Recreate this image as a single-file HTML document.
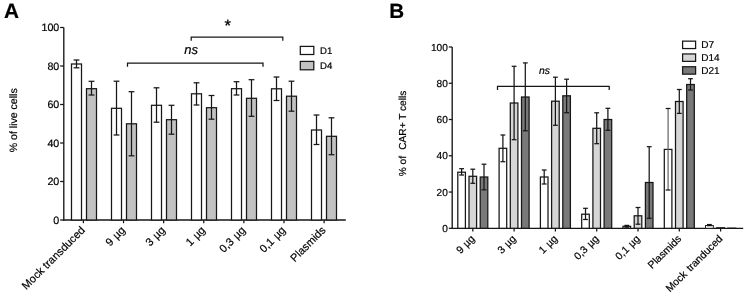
<!DOCTYPE html>
<html><head><meta charset="utf-8"><title>Figure</title>
<style>
html,body{margin:0;padding:0;background:#fff;}
body{width:744px;height:294px;overflow:hidden;}
svg text{stroke:#000;stroke-width:0.2px;text-rendering:geometricPrecision;}
svg{display:block;will-change:transform;filter:grayscale(1);font-family:"Liberation Sans",sans-serif;}
</style></head><body>
<svg width="744" height="294" viewBox="0 0 744 294">
<rect x="0" y="0" width="744" height="294" fill="#ffffff"/>
<text x="4.00" y="17.85" font-size="20.8" text-anchor="start" fill="#000" font-weight="bold">A</text>
<line x1="63.80" y1="27.50" x2="63.80" y2="220.65" stroke="#161616" stroke-width="1.35"/>
<line x1="63.30" y1="220.00" x2="345.80" y2="220.00" stroke="#161616" stroke-width="1.35"/>
<line x1="60.10" y1="220.00" x2="63.80" y2="220.00" stroke="#161616" stroke-width="1.25"/>
<text x="59.30" y="223.80" font-size="10.7" text-anchor="end" fill="#000000" >0</text>
<line x1="60.10" y1="181.50" x2="63.80" y2="181.50" stroke="#161616" stroke-width="1.25"/>
<text x="59.30" y="185.30" font-size="10.7" text-anchor="end" fill="#000000" >20</text>
<line x1="60.10" y1="143.00" x2="63.80" y2="143.00" stroke="#161616" stroke-width="1.25"/>
<text x="59.30" y="146.80" font-size="10.7" text-anchor="end" fill="#000000" >40</text>
<line x1="60.10" y1="104.50" x2="63.80" y2="104.50" stroke="#161616" stroke-width="1.25"/>
<text x="59.30" y="108.30" font-size="10.7" text-anchor="end" fill="#000000" >60</text>
<line x1="60.10" y1="66.00" x2="63.80" y2="66.00" stroke="#161616" stroke-width="1.25"/>
<text x="59.30" y="69.80" font-size="10.7" text-anchor="end" fill="#000000" >80</text>
<line x1="60.10" y1="27.50" x2="63.80" y2="27.50" stroke="#161616" stroke-width="1.25"/>
<text x="59.30" y="31.30" font-size="10.7" text-anchor="end" fill="#000000" >100</text>
<text transform="translate(16.7,120.3) rotate(-90)" font-size="10.55" text-anchor="middle" fill="#000000">% of live cells</text>
<rect x="71.50" y="64.00" width="10.00" height="156.00" fill="#ffffff" stroke="#161616" stroke-width="1.25"/>
<rect x="86.50" y="88.70" width="10.00" height="131.30" fill="#c2c2c2" stroke="#161616" stroke-width="1.25"/>
<line x1="76.50" y1="60.00" x2="76.50" y2="67.80" stroke="#161616" stroke-width="1.25"/>
<line x1="73.60" y1="60.00" x2="79.40" y2="60.00" stroke="#161616" stroke-width="1.25"/>
<line x1="73.60" y1="67.80" x2="79.40" y2="67.80" stroke="#161616" stroke-width="1.25"/>
<line x1="91.50" y1="81.30" x2="91.50" y2="95.00" stroke="#161616" stroke-width="1.25"/>
<line x1="88.60" y1="81.30" x2="94.40" y2="81.30" stroke="#161616" stroke-width="1.25"/>
<line x1="88.60" y1="95.00" x2="94.40" y2="95.00" stroke="#161616" stroke-width="1.25"/>
<line x1="83.40" y1="220.00" x2="83.40" y2="223.20" stroke="#161616" stroke-width="1.25"/>
<text transform="translate(85.60,230.90) rotate(-45)" font-size="11" text-anchor="end" fill="#000000">Mock transduced</text>
<rect x="111.50" y="108.30" width="10.00" height="111.70" fill="#ffffff" stroke="#161616" stroke-width="1.25"/>
<rect x="126.50" y="123.80" width="10.00" height="96.20" fill="#c2c2c2" stroke="#161616" stroke-width="1.25"/>
<line x1="116.50" y1="81.20" x2="116.50" y2="135.00" stroke="#161616" stroke-width="1.25"/>
<line x1="113.60" y1="81.20" x2="119.40" y2="81.20" stroke="#161616" stroke-width="1.25"/>
<line x1="113.60" y1="135.00" x2="119.40" y2="135.00" stroke="#161616" stroke-width="1.25"/>
<line x1="131.50" y1="91.70" x2="131.50" y2="155.80" stroke="#161616" stroke-width="1.25"/>
<line x1="128.60" y1="91.70" x2="134.40" y2="91.70" stroke="#161616" stroke-width="1.25"/>
<line x1="128.60" y1="155.80" x2="134.40" y2="155.80" stroke="#161616" stroke-width="1.25"/>
<line x1="123.52" y1="220.00" x2="123.52" y2="223.20" stroke="#161616" stroke-width="1.25"/>
<text transform="translate(125.72,230.90) rotate(-45)" font-size="11" text-anchor="end" fill="#000000" style="word-spacing:0.7px">9 µg</text>
<rect x="151.50" y="105.30" width="10.00" height="114.70" fill="#ffffff" stroke="#161616" stroke-width="1.25"/>
<rect x="166.50" y="119.70" width="10.00" height="100.30" fill="#c2c2c2" stroke="#161616" stroke-width="1.25"/>
<line x1="156.50" y1="87.80" x2="156.50" y2="122.20" stroke="#161616" stroke-width="1.25"/>
<line x1="153.60" y1="87.80" x2="159.40" y2="87.80" stroke="#161616" stroke-width="1.25"/>
<line x1="153.60" y1="122.20" x2="159.40" y2="122.20" stroke="#161616" stroke-width="1.25"/>
<line x1="171.50" y1="105.30" x2="171.50" y2="134.20" stroke="#161616" stroke-width="1.25"/>
<line x1="168.60" y1="105.30" x2="174.40" y2="105.30" stroke="#161616" stroke-width="1.25"/>
<line x1="168.60" y1="134.20" x2="174.40" y2="134.20" stroke="#161616" stroke-width="1.25"/>
<line x1="163.64" y1="220.00" x2="163.64" y2="223.20" stroke="#161616" stroke-width="1.25"/>
<text transform="translate(165.84,230.90) rotate(-45)" font-size="11" text-anchor="end" fill="#000000" style="word-spacing:0.7px">3 µg</text>
<rect x="191.50" y="93.80" width="10.00" height="126.20" fill="#ffffff" stroke="#161616" stroke-width="1.25"/>
<rect x="206.50" y="107.70" width="10.00" height="112.30" fill="#c2c2c2" stroke="#161616" stroke-width="1.25"/>
<line x1="196.50" y1="82.80" x2="196.50" y2="105.00" stroke="#161616" stroke-width="1.25"/>
<line x1="193.60" y1="82.80" x2="199.40" y2="82.80" stroke="#161616" stroke-width="1.25"/>
<line x1="193.60" y1="105.00" x2="199.40" y2="105.00" stroke="#161616" stroke-width="1.25"/>
<line x1="211.50" y1="95.50" x2="211.50" y2="119.20" stroke="#161616" stroke-width="1.25"/>
<line x1="208.60" y1="95.50" x2="214.40" y2="95.50" stroke="#161616" stroke-width="1.25"/>
<line x1="208.60" y1="119.20" x2="214.40" y2="119.20" stroke="#161616" stroke-width="1.25"/>
<line x1="203.76" y1="220.00" x2="203.76" y2="223.20" stroke="#161616" stroke-width="1.25"/>
<text transform="translate(205.96,230.90) rotate(-45)" font-size="11" text-anchor="end" fill="#000000" style="word-spacing:0.7px">1 µg</text>
<rect x="231.50" y="88.70" width="10.00" height="131.30" fill="#ffffff" stroke="#161616" stroke-width="1.25"/>
<rect x="246.50" y="98.30" width="10.00" height="121.70" fill="#c2c2c2" stroke="#161616" stroke-width="1.25"/>
<line x1="236.50" y1="81.70" x2="236.50" y2="95.00" stroke="#161616" stroke-width="1.25"/>
<line x1="233.60" y1="81.70" x2="239.40" y2="81.70" stroke="#161616" stroke-width="1.25"/>
<line x1="233.60" y1="95.00" x2="239.40" y2="95.00" stroke="#161616" stroke-width="1.25"/>
<line x1="251.50" y1="79.70" x2="251.50" y2="116.30" stroke="#161616" stroke-width="1.25"/>
<line x1="248.60" y1="79.70" x2="254.40" y2="79.70" stroke="#161616" stroke-width="1.25"/>
<line x1="248.60" y1="116.30" x2="254.40" y2="116.30" stroke="#161616" stroke-width="1.25"/>
<line x1="243.88" y1="220.00" x2="243.88" y2="223.20" stroke="#161616" stroke-width="1.25"/>
<text transform="translate(246.08,230.90) rotate(-45)" font-size="11" text-anchor="end" fill="#000000" style="word-spacing:0.7px">0,3 µg</text>
<rect x="271.50" y="88.80" width="10.00" height="131.20" fill="#ffffff" stroke="#161616" stroke-width="1.25"/>
<rect x="286.50" y="96.20" width="10.00" height="123.80" fill="#c2c2c2" stroke="#161616" stroke-width="1.25"/>
<line x1="276.50" y1="77.00" x2="276.50" y2="100.50" stroke="#161616" stroke-width="1.25"/>
<line x1="273.60" y1="77.00" x2="279.40" y2="77.00" stroke="#161616" stroke-width="1.25"/>
<line x1="273.60" y1="100.50" x2="279.40" y2="100.50" stroke="#161616" stroke-width="1.25"/>
<line x1="291.50" y1="81.20" x2="291.50" y2="111.20" stroke="#161616" stroke-width="1.25"/>
<line x1="288.60" y1="81.20" x2="294.40" y2="81.20" stroke="#161616" stroke-width="1.25"/>
<line x1="288.60" y1="111.20" x2="294.40" y2="111.20" stroke="#161616" stroke-width="1.25"/>
<line x1="284.00" y1="220.00" x2="284.00" y2="223.20" stroke="#161616" stroke-width="1.25"/>
<text transform="translate(286.20,230.90) rotate(-45)" font-size="11" text-anchor="end" fill="#000000" style="word-spacing:0.7px">0,1 µg</text>
<rect x="311.50" y="130.00" width="10.00" height="90.00" fill="#ffffff" stroke="#161616" stroke-width="1.25"/>
<rect x="326.50" y="136.30" width="10.00" height="83.70" fill="#c2c2c2" stroke="#161616" stroke-width="1.25"/>
<line x1="316.50" y1="115.00" x2="316.50" y2="144.50" stroke="#161616" stroke-width="1.25"/>
<line x1="313.60" y1="115.00" x2="319.40" y2="115.00" stroke="#161616" stroke-width="1.25"/>
<line x1="313.60" y1="144.50" x2="319.40" y2="144.50" stroke="#161616" stroke-width="1.25"/>
<line x1="331.50" y1="117.80" x2="331.50" y2="154.70" stroke="#161616" stroke-width="1.25"/>
<line x1="328.60" y1="117.80" x2="334.40" y2="117.80" stroke="#161616" stroke-width="1.25"/>
<line x1="328.60" y1="154.70" x2="334.40" y2="154.70" stroke="#161616" stroke-width="1.25"/>
<line x1="324.12" y1="220.00" x2="324.12" y2="223.20" stroke="#161616" stroke-width="1.25"/>
<text transform="translate(326.32,230.90) rotate(-45)" font-size="11" text-anchor="end" fill="#000000">Plasmids</text>
<polyline points="127.50,66.80 127.50,63.00 263.00,63.00 263.00,66.80" fill="none" stroke="#161616" stroke-width="1.25"/>
<polyline points="191.20,40.80 191.20,37.00 282.80,37.00 282.80,40.80" fill="none" stroke="#161616" stroke-width="1.25"/>
<text x="191.10" y="54.30" font-size="13" text-anchor="middle" fill="#000000" font-style="italic">ns</text>
<text x="227.70" y="31.30" font-size="16.5" text-anchor="middle" fill="#000000" style="stroke-width:0.3px">*</text>
<rect x="300.30" y="46.40" width="13.50" height="8.10" fill="#ffffff" stroke="#161616" stroke-width="1.25"/>
<rect x="300.30" y="61.40" width="13.50" height="8.40" fill="#c2c2c2" stroke="#161616" stroke-width="1.25"/>
<text x="320.00" y="54.00" font-size="9.6" text-anchor="start" fill="#000000" >D1</text>
<text x="320.00" y="69.00" font-size="9.6" text-anchor="start" fill="#000000" >D4</text>
<text x="389.20" y="17.60" font-size="20.6" text-anchor="start" fill="#000" font-weight="bold">B</text>
<line x1="452.20" y1="47.00" x2="452.20" y2="228.95" stroke="#161616" stroke-width="1.35"/>
<line x1="451.70" y1="228.30" x2="743.20" y2="228.30" stroke="#161616" stroke-width="1.35"/>
<line x1="448.80" y1="228.30" x2="452.20" y2="228.30" stroke="#161616" stroke-width="1.25"/>
<text x="447.80" y="231.90" font-size="10.1" text-anchor="end" fill="#000000" >0</text>
<line x1="448.80" y1="192.04" x2="452.20" y2="192.04" stroke="#161616" stroke-width="1.25"/>
<text x="447.80" y="195.64" font-size="10.1" text-anchor="end" fill="#000000" >20</text>
<line x1="448.80" y1="155.78" x2="452.20" y2="155.78" stroke="#161616" stroke-width="1.25"/>
<text x="447.80" y="159.38" font-size="10.1" text-anchor="end" fill="#000000" >40</text>
<line x1="448.80" y1="119.52" x2="452.20" y2="119.52" stroke="#161616" stroke-width="1.25"/>
<text x="447.80" y="123.12" font-size="10.1" text-anchor="end" fill="#000000" >60</text>
<line x1="448.80" y1="83.26" x2="452.20" y2="83.26" stroke="#161616" stroke-width="1.25"/>
<text x="447.80" y="86.86" font-size="10.1" text-anchor="end" fill="#000000" >80</text>
<line x1="448.80" y1="47.00" x2="452.20" y2="47.00" stroke="#161616" stroke-width="1.25"/>
<text x="447.80" y="50.60" font-size="10.1" text-anchor="end" fill="#000000" >100</text>
<text transform="translate(406.0,176.3) rotate(-90)" font-size="10.15" text-anchor="start" fill="#000000">% of</text>
<text transform="translate(406.0,90.7) rotate(-90)" font-size="10.15" text-anchor="end" fill="#000000">CAR+ T cells</text>
<rect x="457.80" y="172.20" width="7.60" height="56.10" fill="#ffffff" stroke="#161616" stroke-width="1.25"/>
<line x1="461.60" y1="168.70" x2="461.60" y2="175.00" stroke="#161616" stroke-width="1.25"/>
<line x1="459.20" y1="168.70" x2="464.00" y2="168.70" stroke="#161616" stroke-width="1.25"/>
<line x1="459.20" y1="175.00" x2="464.00" y2="175.00" stroke="#161616" stroke-width="1.25"/>
<rect x="469.00" y="176.30" width="7.60" height="52.00" fill="#d6d6d6" stroke="#161616" stroke-width="1.25"/>
<line x1="472.80" y1="169.20" x2="472.80" y2="183.30" stroke="#161616" stroke-width="1.25"/>
<line x1="470.40" y1="169.20" x2="475.20" y2="169.20" stroke="#161616" stroke-width="1.25"/>
<line x1="470.40" y1="183.30" x2="475.20" y2="183.30" stroke="#161616" stroke-width="1.25"/>
<rect x="480.20" y="177.00" width="7.60" height="51.30" fill="#797979" stroke="#161616" stroke-width="1.25"/>
<line x1="484.00" y1="164.20" x2="484.00" y2="189.80" stroke="#161616" stroke-width="1.25"/>
<line x1="481.60" y1="164.20" x2="486.40" y2="164.20" stroke="#161616" stroke-width="1.25"/>
<line x1="481.60" y1="189.80" x2="486.40" y2="189.80" stroke="#161616" stroke-width="1.25"/>
<line x1="472.80" y1="228.30" x2="472.80" y2="231.50" stroke="#161616" stroke-width="1.25"/>
<text transform="translate(475.40,239.40) rotate(-45)" font-size="10.4" text-anchor="end" fill="#000000" style="word-spacing:0.7px">9 µg</text>
<rect x="499.10" y="148.30" width="7.60" height="80.00" fill="#ffffff" stroke="#161616" stroke-width="1.25"/>
<line x1="502.90" y1="135.00" x2="502.90" y2="161.70" stroke="#161616" stroke-width="1.25"/>
<line x1="500.50" y1="135.00" x2="505.30" y2="135.00" stroke="#161616" stroke-width="1.25"/>
<line x1="500.50" y1="161.70" x2="505.30" y2="161.70" stroke="#161616" stroke-width="1.25"/>
<rect x="510.30" y="103.00" width="7.60" height="125.30" fill="#d6d6d6" stroke="#161616" stroke-width="1.25"/>
<line x1="514.10" y1="66.30" x2="514.10" y2="139.70" stroke="#161616" stroke-width="1.25"/>
<line x1="511.70" y1="66.30" x2="516.50" y2="66.30" stroke="#161616" stroke-width="1.25"/>
<line x1="511.70" y1="139.70" x2="516.50" y2="139.70" stroke="#161616" stroke-width="1.25"/>
<rect x="521.50" y="97.00" width="7.60" height="131.30" fill="#797979" stroke="#161616" stroke-width="1.25"/>
<line x1="525.30" y1="62.90" x2="525.30" y2="130.80" stroke="#161616" stroke-width="1.25"/>
<line x1="522.90" y1="62.90" x2="527.70" y2="62.90" stroke="#161616" stroke-width="1.25"/>
<line x1="522.90" y1="130.80" x2="527.70" y2="130.80" stroke="#161616" stroke-width="1.25"/>
<line x1="514.10" y1="228.30" x2="514.10" y2="231.50" stroke="#161616" stroke-width="1.25"/>
<text transform="translate(516.70,239.40) rotate(-45)" font-size="10.4" text-anchor="end" fill="#000000" style="word-spacing:0.7px">3 µg</text>
<rect x="540.40" y="177.00" width="7.60" height="51.30" fill="#ffffff" stroke="#161616" stroke-width="1.25"/>
<line x1="544.20" y1="170.00" x2="544.20" y2="184.00" stroke="#161616" stroke-width="1.25"/>
<line x1="541.80" y1="170.00" x2="546.60" y2="170.00" stroke="#161616" stroke-width="1.25"/>
<line x1="541.80" y1="184.00" x2="546.60" y2="184.00" stroke="#161616" stroke-width="1.25"/>
<rect x="551.60" y="101.20" width="7.60" height="127.10" fill="#d6d6d6" stroke="#161616" stroke-width="1.25"/>
<line x1="555.40" y1="77.20" x2="555.40" y2="125.30" stroke="#161616" stroke-width="1.25"/>
<line x1="553.00" y1="77.20" x2="557.80" y2="77.20" stroke="#161616" stroke-width="1.25"/>
<line x1="553.00" y1="125.30" x2="557.80" y2="125.30" stroke="#161616" stroke-width="1.25"/>
<rect x="562.80" y="95.80" width="7.60" height="132.50" fill="#797979" stroke="#161616" stroke-width="1.25"/>
<line x1="566.60" y1="79.20" x2="566.60" y2="112.70" stroke="#161616" stroke-width="1.25"/>
<line x1="564.20" y1="79.20" x2="569.00" y2="79.20" stroke="#161616" stroke-width="1.25"/>
<line x1="564.20" y1="112.70" x2="569.00" y2="112.70" stroke="#161616" stroke-width="1.25"/>
<line x1="555.40" y1="228.30" x2="555.40" y2="231.50" stroke="#161616" stroke-width="1.25"/>
<text transform="translate(558.00,239.40) rotate(-45)" font-size="10.4" text-anchor="end" fill="#000000" style="word-spacing:0.7px">1 µg</text>
<rect x="581.70" y="214.20" width="7.60" height="14.10" fill="#ffffff" stroke="#161616" stroke-width="1.25"/>
<line x1="585.50" y1="208.30" x2="585.50" y2="219.50" stroke="#161616" stroke-width="1.25"/>
<line x1="583.10" y1="208.30" x2="587.90" y2="208.30" stroke="#161616" stroke-width="1.25"/>
<line x1="583.10" y1="219.50" x2="587.90" y2="219.50" stroke="#161616" stroke-width="1.25"/>
<rect x="592.90" y="128.30" width="7.60" height="100.00" fill="#d6d6d6" stroke="#161616" stroke-width="1.25"/>
<line x1="596.70" y1="112.80" x2="596.70" y2="143.70" stroke="#161616" stroke-width="1.25"/>
<line x1="594.30" y1="112.80" x2="599.10" y2="112.80" stroke="#161616" stroke-width="1.25"/>
<line x1="594.30" y1="143.70" x2="599.10" y2="143.70" stroke="#161616" stroke-width="1.25"/>
<rect x="604.10" y="119.50" width="7.60" height="108.80" fill="#797979" stroke="#161616" stroke-width="1.25"/>
<line x1="607.90" y1="108.30" x2="607.90" y2="130.30" stroke="#161616" stroke-width="1.25"/>
<line x1="605.50" y1="108.30" x2="610.30" y2="108.30" stroke="#161616" stroke-width="1.25"/>
<line x1="605.50" y1="130.30" x2="610.30" y2="130.30" stroke="#161616" stroke-width="1.25"/>
<line x1="596.70" y1="228.30" x2="596.70" y2="231.50" stroke="#161616" stroke-width="1.25"/>
<text transform="translate(599.30,239.40) rotate(-45)" font-size="10.4" text-anchor="end" fill="#000000" style="word-spacing:0.7px">0,3 µg</text>
<rect x="623.00" y="226.30" width="7.60" height="2.00" fill="#ffffff" stroke="#161616" stroke-width="1.25"/>
<line x1="626.80" y1="225.40" x2="626.80" y2="227.20" stroke="#161616" stroke-width="1.25"/>
<line x1="624.40" y1="225.40" x2="629.20" y2="225.40" stroke="#161616" stroke-width="1.25"/>
<line x1="624.40" y1="227.20" x2="629.20" y2="227.20" stroke="#161616" stroke-width="1.25"/>
<rect x="634.20" y="215.80" width="7.60" height="12.50" fill="#d6d6d6" stroke="#161616" stroke-width="1.25"/>
<line x1="638.00" y1="207.50" x2="638.00" y2="224.20" stroke="#161616" stroke-width="1.25"/>
<line x1="635.60" y1="207.50" x2="640.40" y2="207.50" stroke="#161616" stroke-width="1.25"/>
<line x1="635.60" y1="224.20" x2="640.40" y2="224.20" stroke="#161616" stroke-width="1.25"/>
<rect x="645.40" y="182.50" width="7.60" height="45.80" fill="#797979" stroke="#161616" stroke-width="1.25"/>
<line x1="649.20" y1="146.70" x2="649.20" y2="218.30" stroke="#161616" stroke-width="1.25"/>
<line x1="646.80" y1="146.70" x2="651.60" y2="146.70" stroke="#161616" stroke-width="1.25"/>
<line x1="646.80" y1="218.30" x2="651.60" y2="218.30" stroke="#161616" stroke-width="1.25"/>
<line x1="638.00" y1="228.30" x2="638.00" y2="231.50" stroke="#161616" stroke-width="1.25"/>
<text transform="translate(640.60,239.40) rotate(-45)" font-size="10.4" text-anchor="end" fill="#000000" style="word-spacing:0.7px">0,1 µg</text>
<rect x="664.30" y="149.40" width="7.60" height="78.90" fill="#ffffff" stroke="#161616" stroke-width="1.25"/>
<line x1="668.10" y1="108.50" x2="668.10" y2="190.00" stroke="#686868" stroke-width="1.25"/>
<line x1="665.70" y1="108.50" x2="670.50" y2="108.50" stroke="#161616" stroke-width="1.25"/>
<line x1="665.70" y1="190.00" x2="670.50" y2="190.00" stroke="#161616" stroke-width="1.25"/>
<rect x="675.50" y="101.50" width="7.60" height="126.80" fill="#d6d6d6" stroke="#161616" stroke-width="1.25"/>
<line x1="679.30" y1="89.50" x2="679.30" y2="113.40" stroke="#161616" stroke-width="1.25"/>
<line x1="676.90" y1="89.50" x2="681.70" y2="89.50" stroke="#161616" stroke-width="1.25"/>
<line x1="676.90" y1="113.40" x2="681.70" y2="113.40" stroke="#161616" stroke-width="1.25"/>
<rect x="686.70" y="84.50" width="7.60" height="143.80" fill="#797979" stroke="#161616" stroke-width="1.25"/>
<line x1="690.50" y1="78.70" x2="690.50" y2="90.00" stroke="#161616" stroke-width="1.25"/>
<line x1="688.10" y1="78.70" x2="692.90" y2="78.70" stroke="#161616" stroke-width="1.25"/>
<line x1="688.10" y1="90.00" x2="692.90" y2="90.00" stroke="#161616" stroke-width="1.25"/>
<line x1="679.30" y1="228.30" x2="679.30" y2="231.50" stroke="#161616" stroke-width="1.25"/>
<text transform="translate(681.90,239.40) rotate(-45)" font-size="10.4" text-anchor="end" fill="#000000">Plasmids</text>
<rect x="705.50" y="225.55" width="7.80" height="2.75" fill="#ffffff" stroke="#161616" stroke-width="0.95"/>
<line x1="709.40" y1="224.55" x2="709.40" y2="225.60" stroke="#161616" stroke-width="1.25"/>
<line x1="707.00" y1="224.55" x2="711.80" y2="224.55" stroke="#161616" stroke-width="1.25"/>
<line x1="707.00" y1="225.60" x2="711.80" y2="225.60" stroke="#161616" stroke-width="1.25"/>
<rect x="716.80" y="227.80" width="7.60" height="0.50" fill="#d6d6d6" stroke="#161616" stroke-width="1.25"/>
<rect x="728.00" y="228.20" width="7.60" height="0.10" fill="#797979" stroke="#161616" stroke-width="1.25"/>
<line x1="720.60" y1="228.30" x2="720.60" y2="231.50" stroke="#161616" stroke-width="1.25"/>
<text transform="translate(723.20,239.40) rotate(-45)" font-size="10.4" text-anchor="end" fill="#000000" style="word-spacing:1.3px">Mock tranduced</text>
<polyline points="497.50,89.90 497.50,86.30 609.20,86.30 609.20,89.90" fill="none" stroke="#161616" stroke-width="1.25"/>
<text x="544.50" y="74.10" font-size="10.4" text-anchor="middle" fill="#000000" font-style="italic">ns</text>
<rect x="682.60" y="41.15" width="13.00" height="7.40" fill="#ffffff" stroke="#161616" stroke-width="1.25"/>
<text x="701.20" y="48.40" font-size="10" text-anchor="start" fill="#000000" >D7</text>
<rect x="682.60" y="53.95" width="13.00" height="7.40" fill="#d6d6d6" stroke="#161616" stroke-width="1.25"/>
<text x="701.20" y="61.20" font-size="10" text-anchor="start" fill="#000000" >D14</text>
<rect x="682.60" y="66.75" width="13.00" height="7.40" fill="#797979" stroke="#161616" stroke-width="1.25"/>
<text x="701.20" y="74.00" font-size="10" text-anchor="start" fill="#000000" >D21</text>
</svg>
</body></html>
